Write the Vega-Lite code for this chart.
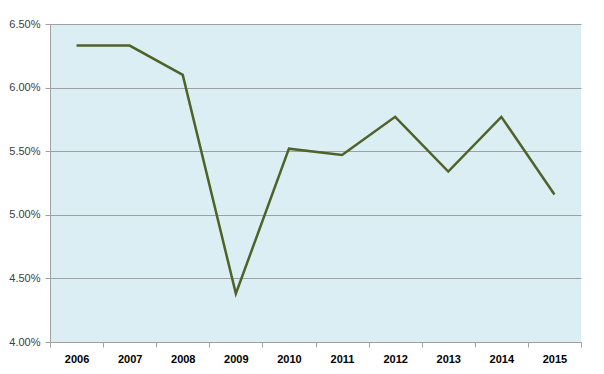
{
  "$schema": "https://vega.github.io/schema/vega-lite/v6.json",
  "width": 531,
  "height": 318,
  "autosize": {"type": "none"},
  "padding": {"left": 50, "top": 24, "right": 23, "bottom": 32},
  "background": "white",
  "config": {
    "view": {"fill": "#DBEEF4", "stroke": null},
    "font": "Liberation Sans"
  },
  "data": {
    "values": [
      {"year": "2006", "rate": 0.0633},
      {"year": "2007", "rate": 0.0633},
      {"year": "2008", "rate": 0.0610},
      {"year": "2009", "rate": 0.0438},
      {"year": "2010", "rate": 0.0552},
      {"year": "2011", "rate": 0.0547},
      {"year": "2012", "rate": 0.0577},
      {"year": "2013", "rate": 0.0534},
      {"year": "2014", "rate": 0.0577},
      {"year": "2015", "rate": 0.0516}
    ]
  },
  "mark": {"type": "line", "color": "#4F6228", "strokeWidth": 2.5},
  "encoding": {
    "x": {
      "field": "year",
      "type": "ordinal",
      "scale": {"paddingInner": 0, "paddingOuter": 0},
      "axis": {
        "title": null,
        "labelAngle": 0,
        "tickBand": "extent",
        "grid": false,
        "domainColor": "#A0A0A0",
        "tickColor": "#A0A0A0",
        "tickSize": 5,
        "labelPadding": 6,
        "labelFont": "Liberation Sans",
        "labelFontSize": 11,
        "labelFontWeight": "bold",
        "labelColor": "#000000"
      }
    },
    "y": {
      "field": "rate",
      "type": "quantitative",
      "scale": {"domain": [0.04, 0.065], "nice": false, "zero": false},
      "axis": {
        "title": null,
        "values": [0.04, 0.045, 0.05, 0.055, 0.06, 0.065],
        "format": ".2%",
        "grid": true,
        "gridColor": "#A0A0A0",
        "gridWidth": 1,
        "domainColor": "#A0A0A0",
        "tickColor": "#A0A0A0",
        "tickSize": 5,
        "labelPadding": 5,
        "labelFont": "Liberation Sans",
        "labelFontSize": 11,
        "labelColor": "#404040"
      }
    }
  }
}
